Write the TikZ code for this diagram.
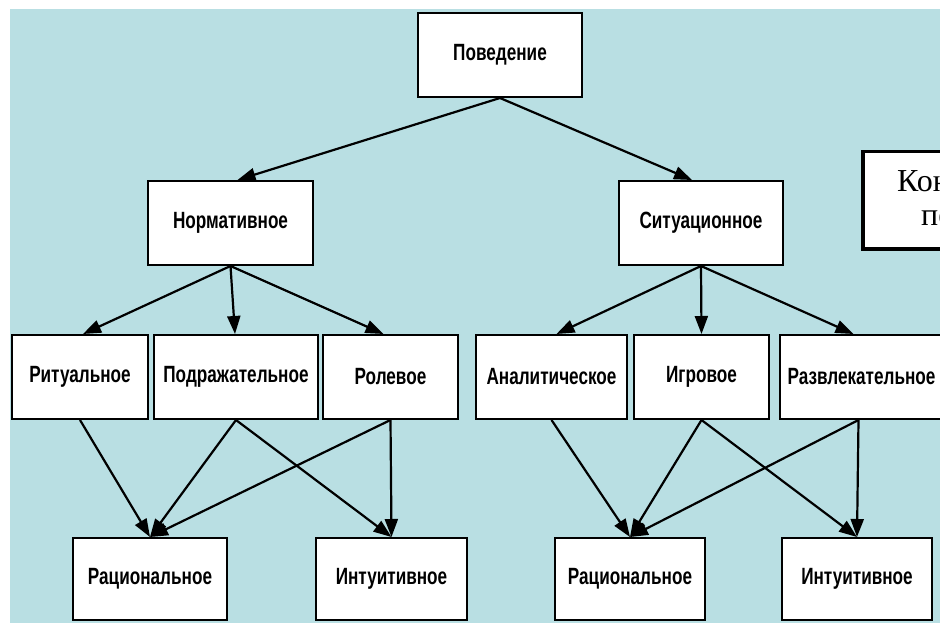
\documentclass[tikz,border=0pt]{standalone}
\usepackage{fontspec}
\usetikzlibrary{arrows.meta}
\newfontfamily\boxfont{Liberation Sans}[FakeStretch=0.73]
\newfontfamily\notefont{Liberation Serif}
\definecolor{bgblue}{HTML}{B9DFE3}
\tikzset{
  kindbox/.style={draw, line width=2pt, fill=white, inner sep=0pt,
                  minimum height=84pt, font=\boxfont\bfseries\fontsize{23.5}{27}\selectfont},
  notebox/.style={draw, line width=3.5pt, fill=white, inner sep=0pt, anchor=north west},
  notetext/.style={font=\notefont\fontsize{32}{36}\selectfont, inner sep=0pt, anchor=base west},
  link/.style={line width=2.2pt, -{Triangle[length=18pt, width=13pt]}},
}
\begin{document}
\begin{tikzpicture}[x=1pt, y=-1pt]
    \useasboundingbox (0,0) rectangle (940,623);
    \clip (0,0) rectangle (940,623);
    \fill[bgblue] (10,9) rectangle (940,623);
    % top level
    \node[kindbox, minimum width=164pt] (pov) at (500,55) {Поведение};
    \node[kindbox, minimum width=165pt] (norm) at (230.5,223) {Нормативное};
    \node[kindbox, minimum width=164pt] (sit) at (701,223) {Ситуационное};
    % note box on the right
    \node[notebox, minimum width=200pt, minimum height=97pt] (konc) at (861,150) {};
    \node[notetext] (konc1) at (897,192) {Кон};
    \node[notetext] (konc2) at (921,225) {пе};
    % third level
    \node[kindbox, minimum width=136pt] (rit) at (80,377) {Ритуальное};
    \node[kindbox, minimum width=164pt] (podr) at (236,377) {Подражательное};
    \node[kindbox, minimum width=135pt] (rol) at (390.5,377) {Ролевое};
    \node[kindbox, minimum width=151pt] (anal) at (551.5,377) {Аналитическое};
    \node[kindbox, minimum width=135pt] (igr) at (701.5,377) {Игровое};
    \node[kindbox, minimum width=163pt] (razv) at (861.5,377) {Развлекательное};
    % bottom level
    \node[kindbox, minimum width=154pt, minimum height=82pt] (racA) at (150,579) {Рациональное};
    \node[kindbox, minimum width=151pt, minimum height=82pt] (intA) at (391.5,579) {Интуитивное};
    \node[kindbox, minimum width=150pt, minimum height=82pt] (racB) at (630,579) {Рациональное};
    \node[kindbox, minimum width=150pt, minimum height=82pt] (intB) at (857,579) {Интуитивное};
    % connectors
    \draw[link] (pov.south) -- ([xshift=7pt]norm.north);
    \draw[link] (pov.south) -- ([xshift=-9pt]sit.north);
    \draw[link] (norm.south) -- ([xshift=3pt]rit.north);
    \draw[link] (norm.south) -- ([xshift=-1pt]podr.north);
    \draw[link] (norm.south) -- ([xshift=-7pt]rol.north);
    \draw[link] (sit.south) -- ([xshift=5pt]anal.north);
    \draw[link] (sit.south) -- (igr.north);
    \draw[link] (sit.south) -- ([xshift=-8pt]razv.north);
    \draw[link] (rit.south) -- (racA.north);
    \draw[link] (podr.south) -- (racA.north);
    \draw[link] (podr.south) -- (intA.north);
    \draw[link] (rol.south) -- (racA.north);
    \draw[link] (rol.south) -- (intA.north);
    \draw[link] (anal.south) -- (racB.north);
    \draw[link] (igr.south) -- (racB.north);
    \draw[link] (igr.south) -- (intB.north);
    \draw[link] ([xshift=-3pt]razv.south) -- (racB.north);
    \draw[link] ([xshift=-3pt]razv.south) -- (intB.north);
\end{tikzpicture}
\end{document}
